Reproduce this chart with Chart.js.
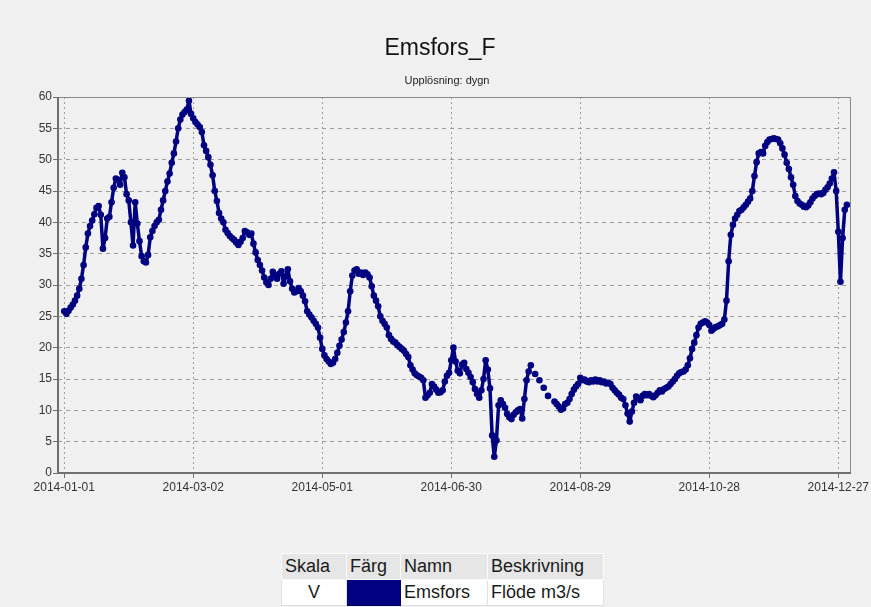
<!DOCTYPE html>
<html>
<head>
<meta charset="utf-8">
<title>Emsfors_F</title>
<script src="https://cdn.jsdelivr.net/npm/chart.js@4.4.1/dist/chart.umd.min.js"></script>
<style>
  html, body {
    margin: 0;
    padding: 0;
    width: 871px;
    height: 607px;
    overflow: hidden;
    background: #f0f0f0;
    font-family: Arial, "Liberation Sans", sans-serif;
  }
  #flowChart { position: absolute; left: 0; top: 0; }
  #title {
    position: absolute; left: 340px; top: 36px; width: 200px;
    text-align: center; font-size: 23px; line-height: 23px; color: #111;
  }
  #subtitle {
    position: absolute; left: 347px; top: 74px; width: 200px;
    text-align: center; font-size: 11px; line-height: 12px; color: #222;
  }
  #legendTable {
    position: absolute; left: 281px; top: 553px;
    border-collapse: collapse; font-size: 18px; color: #1a1a1a;
  }
  #legendTable td {
    height: 25px; padding: 0 3px; white-space: nowrap;
    border: 1px solid #e0e0e0;
  }
  #legendTable tr.head td { background: #e6e6e6; border-color: #fafafa; }
  #legendTable tr.row td { background: #ffffff; }
  #legendTable td.swatch { background: #000080 !important; border-color: #000060; }
</style>
</head>
<body>
<canvas id="flowChart" width="871" height="520"></canvas>
<div id="title">Emsfors_F</div>
<div id="subtitle">Upplösning: dygn</div>
<table id="legendTable">
  <tr class="head">
    <td style="width:58px">Skala</td>
    <td style="width:47px">Färg</td>
    <td style="width:80px">Namn</td>
    <td style="width:109px">Beskrivning</td>
  </tr>
  <tr class="row">
    <td style="text-align:center">V</td>
    <td class="swatch"></td>
    <td>Emsfors</td>
    <td>Flöde m3/s</td>
  </tr>
</table>

<script>
/**
 * Emsfors_F - daily flow (m3/s) for 2014
 * Values (null = missing day)
 */

const janFlow = [25.8, 25.4, 25.9, 26.4, 26.9, 27.5, 28.3, 29.4, 31.0, 33.2,
                 36.0, 38.2, 39.4, 40.3, 41.3, 42.3, 42.6, 41.2, 35.8, 37.5,
                 40.6, 40.9, 43.2, 45.5, 47.0, 46.8, 46.0, 47.9, 47.2, 44.5, 43.5];
const febFlow = [40.0, 36.3, 43.2, 39.8, 37.0, 34.6, 33.8, 33.6, 34.8, 37.6,
                 38.6, 39.4, 40.0, 40.4, 42.0, 43.5, 45.0, 46.5, 47.8, 49.5,
                 51.0, 52.9, 55.0, 56.4, 57.2, 57.6, 58.0, 59.4];
const marFlow = [57.3, 56.6, 56.0, 55.6, 55.2, 54.4, 52.3, 51.4, 50.4, 49.2,
                 47.5, 45.0, 43.4, 41.5, 40.6, 40.0, 38.8, 38.3, 37.8, 37.5,
                 37.2, 36.8, 36.4, 36.9, 37.5, 38.6, 38.4, 38.0, 38.2, 36.6, 35.2];
const aprFlow = [34.0, 33.2, 32.3, 31.2, 30.4, 30.0, 31.0, 32.1, 31.5, 31.0,
                 31.8, 32.2, 30.2, 31.4, 32.5, 30.6, 29.4, 28.8, 29.0, 29.5,
                 29.0, 28.3, 27.4, 25.8, 25.3, 24.8, 24.3, 23.8, 23.2, 21.6];
const mayFlow = [19.8, 18.8, 18.2, 17.8, 17.4, 17.6, 18.2, 19.2, 20.3, 21.3,
                 22.5, 24.0, 25.8, 29.0, 31.5, 32.3, 32.5, 31.8, 32.0, 31.6,
                 32.0, 31.7, 31.2, 29.8, 28.3, 27.5, 26.6, 25.0, 24.3, 23.8, 23.2];
const junFlow = [22.0, 21.4, 21.0, 20.8, 20.4, 20.1, 19.8, 19.5, 19.0, 18.5,
                 17.2, 16.5, 15.9, 15.6, 15.4, 15.2, 14.8, 12.0, 12.4, 12.8,
                 14.2, 13.8, 13.3, 12.8, 12.9, 13.2, 14.6, 15.5, 16.0, 18.0];
const julFlow = [20.0, 17.8, 16.3, 15.9, 17.3, 17.6, 16.6, 16.0, 15.3, 14.5,
                 13.4, 12.6, 12.0, 13.2, 15.0, 18.0, 16.5, 13.5, 6.0, 2.6,
                 5.2, 10.8, 11.6, 11.0, 10.4, 9.4, 8.9, 8.6, 9.3, 9.7, 10.0];
const augFlow = [10.2, 8.7, 11.8, 14.8, 16.2, 17.2, null, 15.8, null, 14.8,
                 null, 13.6, null, 12.3, null, null, 11.4, 11.0, 10.6, 10.1,
                 10.3, 11.0, 11.2, 11.8, 12.6, 13.3, 13.8, 14.2, 15.2, 14.8, 14.9];
const sepFlow = [14.6, 14.5, 14.8, 14.6, 14.9, 14.6, 14.8, 14.5, 14.6, 14.3,
                 14.4, 14.2, 13.6, 13.2, 12.8, 12.5, 12.0, 11.8, 10.8, 9.5,
                 8.2, 9.8, 11.2, 12.2, 11.9, 11.6, 12.3, 12.6, 12.4, 12.6];
const octFlow = [12.3, 12.1, 12.4, 12.8, 13.2, 13.0, 13.4, 13.6, 13.8, 14.2,
                 14.6, 15.0, 15.5, 15.9, 16.1, 16.2, 16.5, 17.2, 18.3, 19.8,
                 20.8, 22.0, 23.2, 23.8, 24.0, 24.2, 24.0, 23.6, 22.7, 23.0, 23.3];
const novFlow = [23.4, 23.6, 23.8, 24.5, 27.5, 33.8, 38.0, 39.6, 40.6, 41.2,
                 41.8, 42.0, 42.4, 42.8, 43.3, 43.8, 45.0, 47.4, 49.6, 51.0,
                 51.2, 51.0, 52.2, 52.8, 53.2, 53.3, 53.4, 53.3, 53.2, 52.6];
const decFlow = [51.8, 50.8, 49.5, 48.5, 47.2, 46.0, 44.2, 43.4, 43.0, 42.8,
                 42.5, 42.4, 42.7, 43.2, 43.8, 44.2, 44.5, 44.6, 44.5, 44.7,
                 45.2, 45.6, 46.2, 47.0, 48.0, 45.0, 38.5, 30.5, 37.5, 42.0, 42.8];

// x axis ticks (day of year, 0 = 2014-01-01)
const tickDays = [0, 60, 120, 180, 240, 300, 360];
const tickLabels = ['2014-01-01', '2014-03-02', '2014-05-01', '2014-06-30',
                    '2014-08-29', '2014-10-28', '2014-12-27'];

const LINE_COLOR = '#000080';
const GRID_COLOR = '#9c9c9c';

const dailyFlow = [].concat(janFlow, febFlow, marFlow, aprFlow, mayFlow, junFlow,
                            julFlow, augFlow, sepFlow, octFlow, novFlow, decFlow);
const points = dailyFlow.map((v, i) => ({ x: i, y: v }));

/**
 * Frame around the plot area (darker left/bottom like the original tool)
 */
const framePlugin = {
    id: 'frame',
    afterDatasetsDraw(chart) {
        const { ctx, chartArea: a } = chart;
        ctx.save();
        ctx.lineWidth = 1;
        ctx.strokeStyle = '#8a8a8a';
        ctx.beginPath();
        ctx.moveTo(a.left, a.top + 0.5);
        ctx.lineTo(a.right - 0.5, a.top + 0.5);
        ctx.lineTo(a.right - 0.5, a.bottom);
        ctx.stroke();
        ctx.lineWidth = 2;
        ctx.strokeStyle = '#707070';
        ctx.beginPath();
        ctx.moveTo(a.left, a.top);
        ctx.lineTo(a.left, a.bottom);
        ctx.lineTo(a.right, a.bottom);
        ctx.stroke();
        ctx.restore();
    }
};

function initChart() {
    const ctx = document.getElementById('flowChart').getContext('2d');
    new Chart(ctx, {
        type: 'line',
        data: {
            datasets: [{
                label: 'Emsfors',
                data: points,
                borderColor: LINE_COLOR,
                backgroundColor: LINE_COLOR,
                borderWidth: 3.5,
                borderJoinStyle: 'round',
                borderCapStyle: 'round',
                pointRadius: 3.3,
                pointBorderWidth: 0,
                pointBackgroundColor: LINE_COLOR,
                tension: 0,
                spanGaps: false,
                fill: false
            }]
        },
        options: {
            responsive: false,
            animation: false,
            devicePixelRatio: 1,
            layout: { padding: { top: 97, right: 20, left: 0, bottom: 0 } },
            plugins: {
                legend: { display: false },
                title: { display: false },
                tooltip: { enabled: false }
            },
            scales: {
                x: {
                    type: 'linear',
                    min: -2.9,
                    max: 365.9,
                    afterBuildTicks: (scale) => {
                        scale.ticks = tickDays.map(d => ({ value: d }));
                    },
                    afterFit: (scale) => {
                        scale.height = 47;
                        scale.paddingLeft = 0;
                        scale.paddingRight = 0;
                    },
                    ticks: {
                        autoSkip: false,
                        maxRotation: 0,
                        padding: 2,
                        color: '#333',
                        font: { family: 'Arial, "Liberation Sans"', size: 12 },
                        callback: (value) => tickLabels[tickDays.indexOf(value)] || ''
                    },
                    grid: {
                        color: GRID_COLOR,
                        lineWidth: 1,
                        tickLength: 5,
                        tickColor: '#707070',
                        tickBorderDash: []
                    },
                    // in Chart.js v4 border.dash is the dash of the grid lines
                    border: { display: false, dash: [2, 3] }
                },
                y: {
                    min: 0,
                    max: 60,
                    afterFit: (scale) => { scale.width = 58; },
                    ticks: {
                        stepSize: 5,
                        padding: 1,
                        color: '#333',
                        font: { family: 'Arial, "Liberation Sans"', size: 12 }
                    },
                    grid: {
                        color: GRID_COLOR,
                        lineWidth: 1,
                        tickLength: 5,
                        tickColor: '#707070',
                        tickBorderDash: []
                    },
                    border: { display: false, dash: [4, 4] }
                }
            }
        },
        plugins: [framePlugin]
    });
}

document.addEventListener('DOMContentLoaded', initChart);
</script>
</body>
</html>
